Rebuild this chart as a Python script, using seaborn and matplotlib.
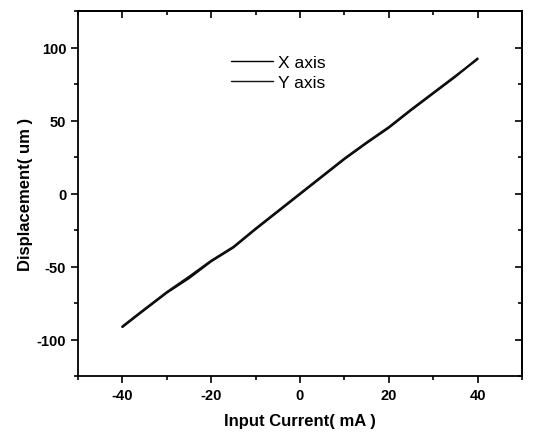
import matplotlib
matplotlib.use("Agg")
import matplotlib.pyplot as plt
import seaborn as sns
import pandas as pd
from matplotlib.ticker import MultipleLocator, NullFormatter

current = [-40, -36, -30, -25, -20, -15, -10, -5, 0, 5, 10, 15, 20, 25, 30, 35, 40]
x_axis = [-91.5, -82, -68, -58, -46.5, -37, -24.5, -12.5, -0.5, 11.5, 23.5, 34.5, 45, 57, 68.5, 80, 92.5]
y_axis = [-91, -81.5, -67.5, -57, -46, -36.5, -24, -12, 0, 12, 24, 35, 45.5, 57.5, 69, 80.5, 92]
series_names = ["X axis", "Y axis"]

df = pd.DataFrame({
    "current": current * 2,
    "disp": x_axis + y_axis,
    "series": [series_names[0]] * len(current) + [series_names[1]] * len(current),
})

sns.set_style("ticks")
plt.rcParams["font.family"] = ["Liberation Sans", "DejaVu Sans"]
plt.rcParams["axes.unicode_minus"] = False
plt.rcParams["text.color"] = "black"
plt.rcParams["axes.labelcolor"] = "black"
plt.rcParams["xtick.color"] = "black"
plt.rcParams["ytick.color"] = "black"

fig = plt.figure(figsize=(5.4, 4.35), dpi=100)
ax = fig.add_axes([0.1444, 0.1333, 0.8222, 0.8391])

sns.lineplot(data=df, x="current", y="disp", hue="series",
             palette=["black", "#111111"], linewidth=1.5, ax=ax, legend=True)

ax.set_xlim(-50, 50)
ax.set_ylim(-125, 125)
ax.xaxis.set_major_locator(MultipleLocator(20))
ax.xaxis.set_minor_locator(MultipleLocator(10))
ax.yaxis.set_major_locator(MultipleLocator(50))
ax.yaxis.set_minor_locator(MultipleLocator(25))

ax.tick_params(which="both", direction="out", labelsize=10.5, width=1.2, colors="black")
ax.tick_params(which="major", length=5)
ax.tick_params(which="minor", length=3)
for t in ax.get_xticklabels() + ax.get_yticklabels():
    t.set_fontweight("bold")

# mirrored inward ticks on top and right
top = ax.secondary_xaxis("top")
top.xaxis.set_major_locator(MultipleLocator(20))
top.xaxis.set_minor_locator(MultipleLocator(10))
top.xaxis.set_major_formatter(NullFormatter())
top.tick_params(which="both", direction="in", width=1.2, colors="black")
top.tick_params(which="major", length=5)
top.tick_params(which="minor", length=3)
right = ax.secondary_yaxis("right")
right.yaxis.set_major_locator(MultipleLocator(50))
right.yaxis.set_minor_locator(MultipleLocator(25))
right.yaxis.set_major_formatter(NullFormatter())
right.tick_params(which="both", direction="in", width=1.2, colors="black")
right.tick_params(which="major", length=5)
right.tick_params(which="minor", length=3)
for a in (top, right):
    for s in a.spines.values():
        s.set_linewidth(1.3)
        s.set_color("black")

for s in ax.spines.values():
    s.set_linewidth(1.3)
    s.set_color("black")

ax.set_xlabel("Input Current( mA )", fontsize=12, fontweight="bold", labelpad=8, color="black")
ax.set_ylabel("Displacement( um )", fontsize=12, fontweight="bold", labelpad=3, color="black")

leg = ax.legend(loc="upper left", bbox_to_anchor=(0.31, 0.922), frameon=False,
                fontsize=12.5, handlelength=2.4, handletextpad=0.3, labelspacing=0.25,
                title=None)
for line in leg.get_lines():
    line.set_linewidth(1.0)
for t in leg.get_texts():
    t.set_color("black")

fig.savefig("out.png", dpi=100)
